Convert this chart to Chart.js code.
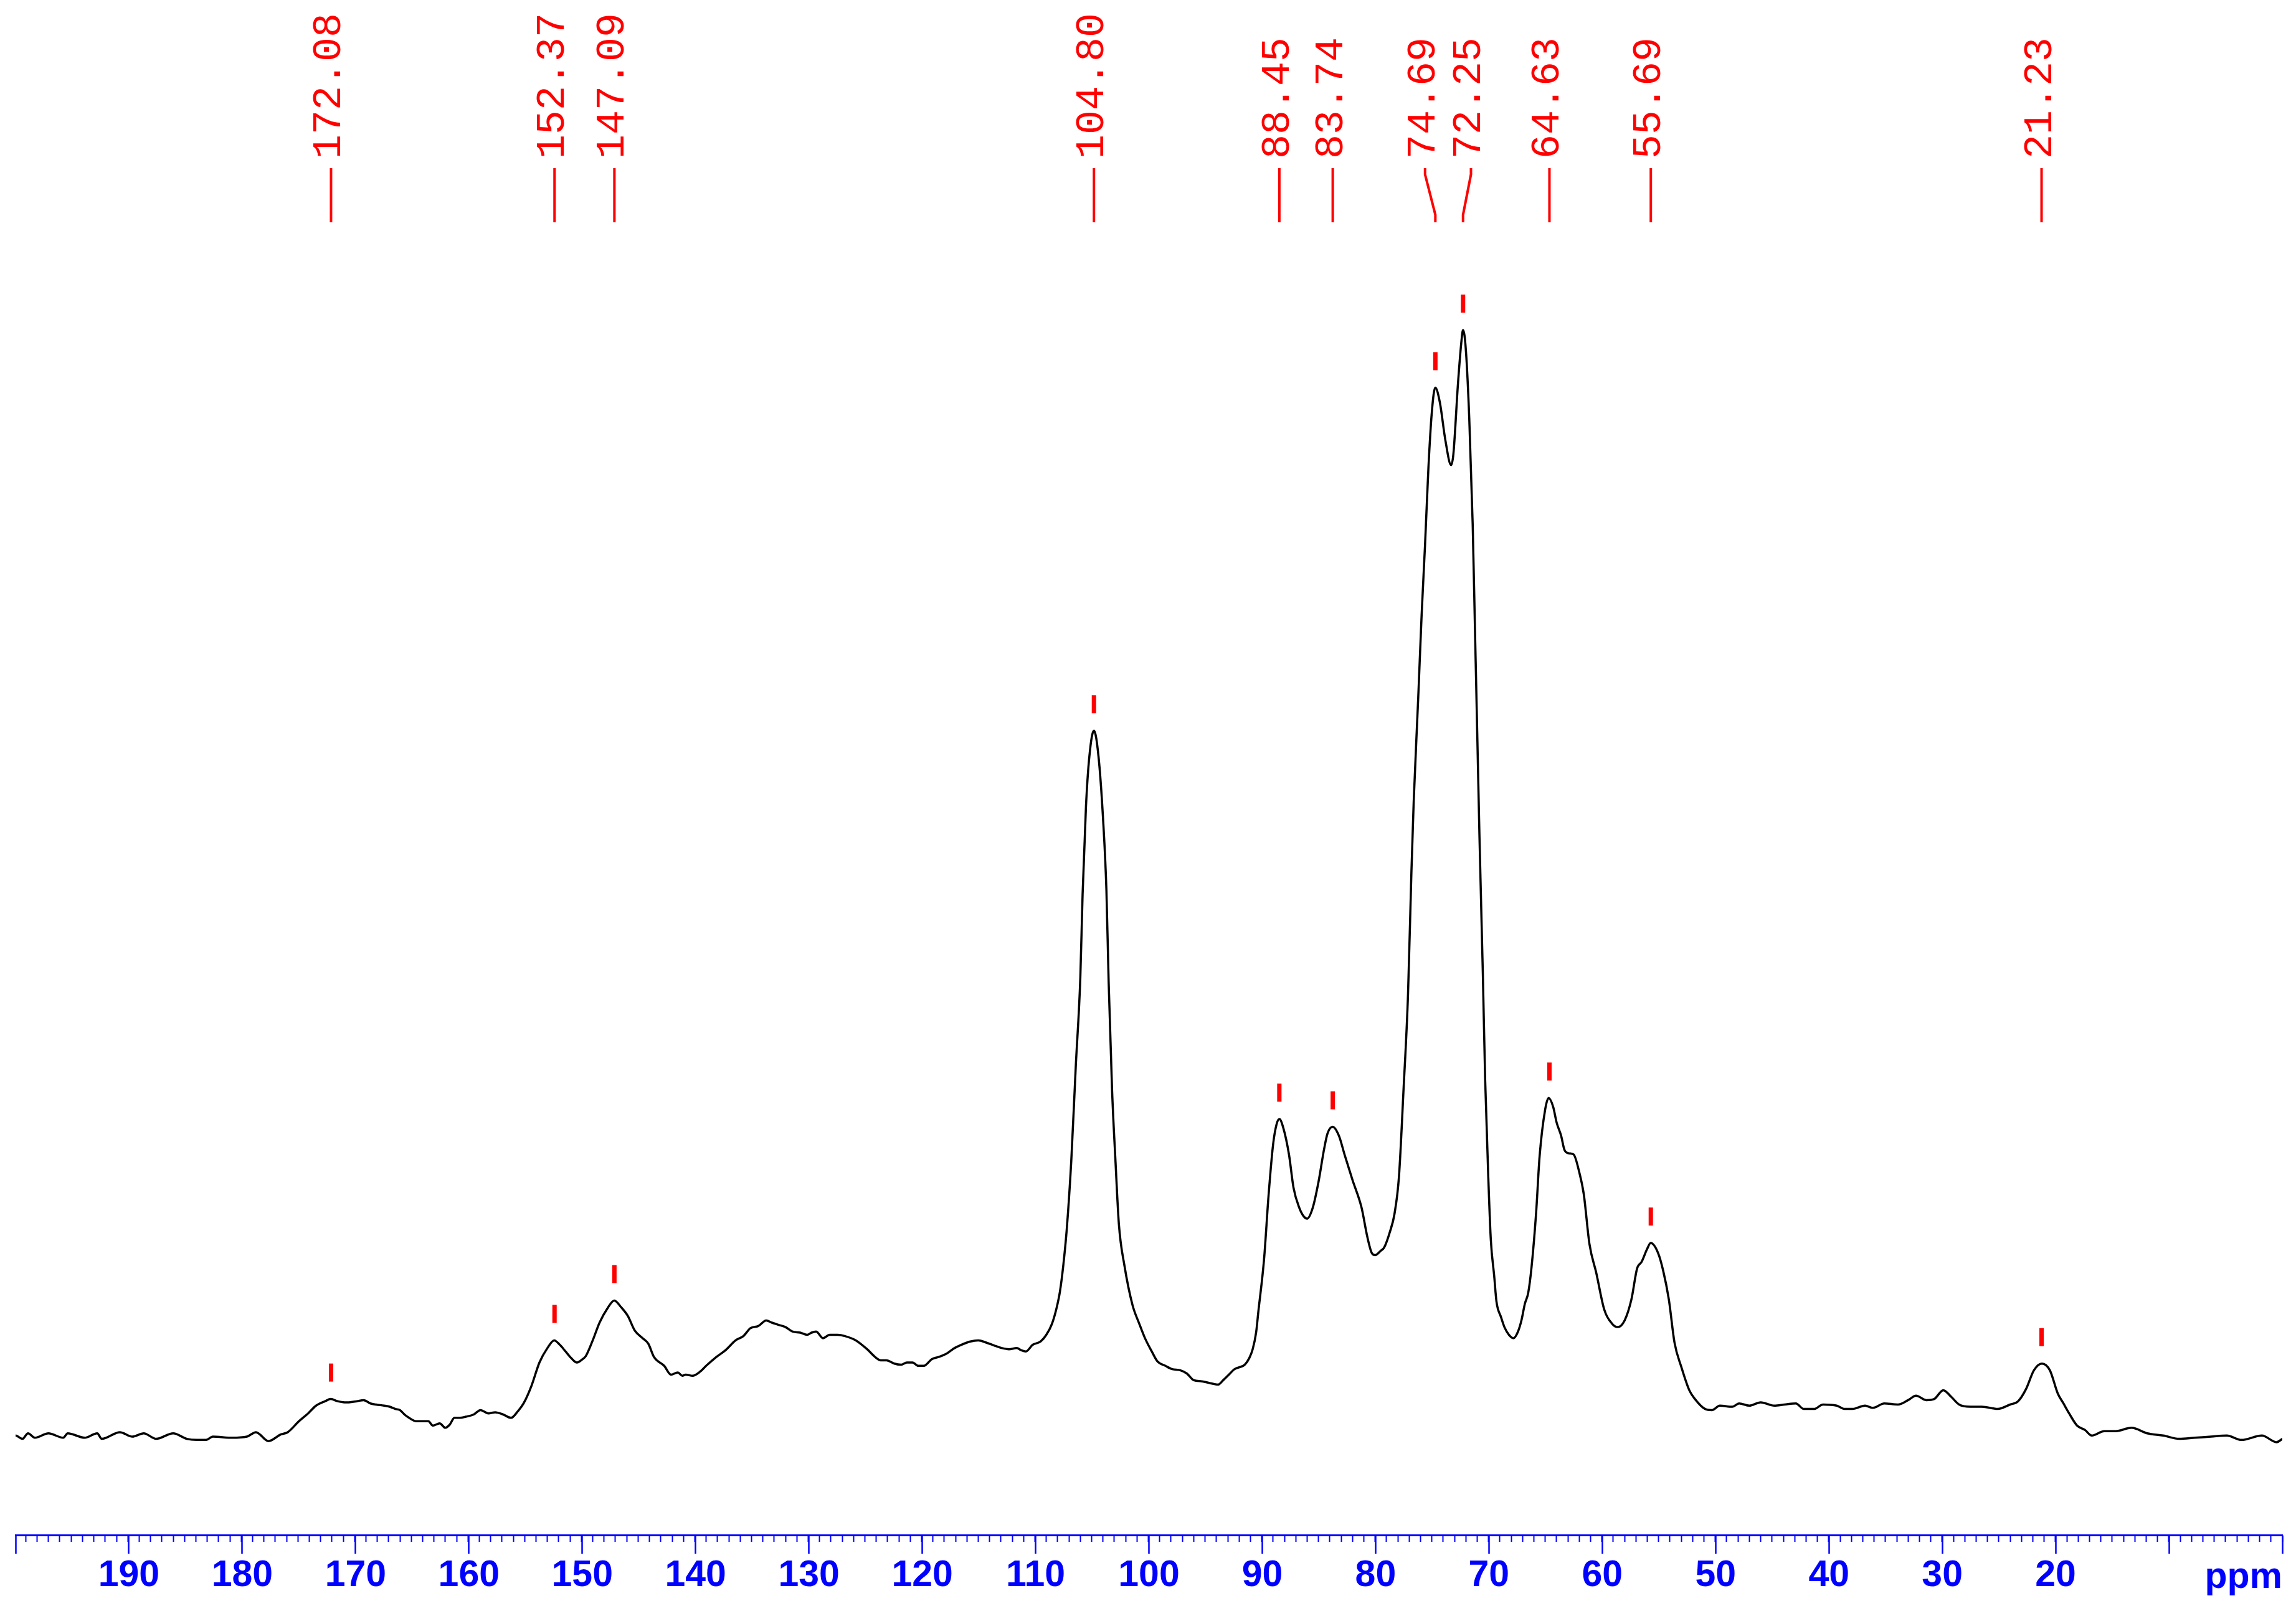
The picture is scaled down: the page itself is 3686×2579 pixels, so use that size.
<!DOCTYPE html>
<html>
<head>
<meta charset="utf-8">
<script src="https://cdn.jsdelivr.net/npm/chart.js@4"></script>
<style>
  html, body { margin: 0; padding: 0; background: #ffffff; }
</style>
</head>
<body>
<canvas id="graphique" width="3686" height="2579"></canvas>
<script>
// chemical shift (ppm) and intensity
const ppm = [
  200.0, 199.9, 199.3, 198.8, 198.2, 197.0, 195.7, 195.3, 193.8, 192.7,
  192.3, 190.7, 189.6, 188.6, 187.5, 186.0, 184.8, 183.9, 183.1, 182.5,
  180.8, 179.5, 178.7, 177.6, 176.5, 175.9, 174.9, 174.1, 173.4, 172.6,
  172.1, 171.5, 170.9, 170.5, 169.8, 169.2, 168.6, 168.1, 167.4, 166.9,
  166.4, 166.0, 165.6, 165.2, 164.6, 163.9, 163.5, 163.1, 162.5, 162.0,
  161.6, 161.2, 160.7, 160.2, 159.5, 158.9, 158.2, 157.6, 156.9, 156.2,
  155.6, 155.1, 154.4, 153.7, 153.0, 152.4, 151.9, 151.4, 150.9, 150.4,
  149.9, 149.6, 149.0, 148.4, 147.7, 147.1, 146.5, 145.9, 145.3, 144.6,
  144.1, 143.6, 142.7, 142.1, 141.5, 141.1, 140.8, 140.2, 139.5, 139.0,
  138.1, 137.3, 136.4, 135.7, 135.1, 134.4, 133.7, 133.2, 132.6, 132.0,
  131.4, 130.7, 130.1, 129.7, 129.3, 128.7, 128.1, 127.4, 126.8, 125.8,
  124.8, 124.1, 123.6, 123.1, 122.4, 121.8, 121.3, 120.8, 120.3, 119.8,
  119.1, 118.5, 117.8, 117.1, 116.5, 115.7, 115.0, 114.3, 113.5, 112.9,
  112.3, 111.6, 111.2, 110.8, 110.2, 109.5, 109.0, 108.5, 108.1, 107.8,
  107.5, 107.2, 106.8, 106.4, 106.0, 105.8, 105.5, 105.2, 104.8, 104.4,
  104.0, 103.7, 103.5, 103.2, 102.9, 102.6, 102.1, 101.4, 100.8, 100.3,
  99.7, 99.2, 98.5, 97.9, 97.2, 96.6, 96.0, 95.3, 94.4, 93.85,
  93.4, 92.9, 92.4, 91.5, 91.1, 90.8, 90.5, 90.3, 89.8, 89.4,
  89.0, 88.7, 88.45, 88.1, 87.6, 87.2, 86.7, 86.3, 86.0, 85.5,
  85.0, 84.5, 84.2, 83.74, 83.2, 82.7, 82.0, 81.2, 80.7, 80.3,
  80.0, 79.5, 79.2, 78.7, 78.3, 77.9, 77.5, 77.1, 76.8, 76.6,
  76.2, 75.9, 75.6, 75.3, 75.0, 74.7, 74.3, 73.8, 73.3, 73.1,
  72.7, 72.4, 72.25, 72.0, 71.7, 71.4, 71.2, 71.0, 70.8, 70.5,
  70.3, 70.0, 69.8, 69.5, 69.3, 68.9, 68.6, 68.2, 67.8, 67.4,
  67.1, 66.8, 66.5, 66.2, 65.8, 65.5, 65.0, 64.7, 64.3, 64.0,
  63.6, 63.3, 62.9, 62.5, 62.0, 61.6, 61.1, 60.5, 59.8, 59.1,
  58.6, 58.0, 57.4, 56.9, 56.5, 56.0, 55.7, 55.05, 54.6, 54.1,
  53.6, 53.0, 52.3, 51.8, 50.9, 50.3, 49.6, 48.5, 47.9, 47.0,
  46.0, 44.8, 43.9, 42.9, 42.2, 41.3, 40.5, 39.3, 38.6, 37.9,
  36.8, 36.1, 35.1, 33.9, 33.0, 32.3, 31.4, 30.7, 29.9, 29.2,
  28.5, 27.5, 26.5, 25.1, 24.0, 23.3, 22.6, 21.9, 21.2, 20.5,
  19.8, 19.3, 18.8, 18.1, 17.4, 16.8, 15.7, 14.7, 13.3, 11.9,
  10.5, 9.1, 7.7, 6.3, 4.9, 3.6, 1.8, 0.5, 0.0
];
const intensity = [
  0.1, 0.1, -0.2, 0.3, -0.1, 0.3, -0.1, 0.3, -0.1, 0.3,
  -0.2, 0.4, 0.0, 0.3, -0.2, 0.3, -0.2, -0.3, -0.3, 0.0,
  -0.1, 0.0, 0.4, -0.4, 0.2, 0.4, 1.4, 2.1, 2.8, 3.2,
  3.4, 3.2, 3.1, 3.1, 3.2, 3.3, 3.0, 2.9, 2.8, 2.7,
  2.5, 2.4, 2.0, 1.7, 1.4, 1.4, 1.4, 1.0, 1.2, 0.8,
  1.1, 1.7, 1.7, 1.8, 2.0, 2.4, 2.1, 2.2, 2.0, 1.7,
  2.3, 3.0, 4.6, 6.7, 8.0, 8.7, 8.3, 7.7, 7.1, 6.7,
  7.0, 7.3, 8.7, 10.3, 11.6, 12.3, 11.7, 10.9, 9.6, 8.9,
  8.4, 7.2, 6.4, 5.6, 5.8, 5.5, 5.6, 5.5, 5.9, 6.4,
  7.2, 7.8, 8.7, 9.1, 9.8, 10.0, 10.5, 10.3, 10.1, 9.9,
  9.5, 9.4, 9.2, 9.4, 9.5, 8.9, 9.2, 9.2, 9.1, 8.7,
  7.9, 7.2, 6.9, 6.9, 6.6, 6.5, 6.7, 6.7, 6.4, 6.4,
  7.0, 7.2, 7.5, 8.0, 8.3, 8.6, 8.7, 8.5, 8.2, 8.0,
  7.9, 8.0, 7.8, 7.7, 8.3, 8.6, 9.2, 10.2, 11.6, 13.1,
  15.5, 18.7, 24.9, 33.5, 41.5, 49.0, 57.0, 61.5, 63.8, 61.5,
  55.9, 49.4, 41.0, 31.3, 24.9, 19.2, 15.4, 11.9, 10.2, 8.9,
  7.7, 6.8, 6.4, 6.1, 6.0, 5.7, 5.1, 5.0, 4.8, 4.7,
  5.1, 5.6, 6.1, 6.5, 7.1, 7.9, 9.4, 11.3, 16.0, 21.8,
  26.4, 28.2, 28.7, 27.9, 25.5, 22.5, 20.7, 19.9, 19.7, 20.7,
  23.0, 26.0, 27.4, 28.0, 27.2, 25.5, 23.2, 20.7, 18.1, 16.6,
  16.4, 16.8, 17.1, 18.5, 20.1, 23.5, 31.3, 40.0, 51.1, 57.4,
  66.8, 74.3, 80.6, 87.6, 92.6, 94.8, 93.5, 90.0, 87.8, 88.8,
  95.1, 98.9, 100.0, 98.2, 92.0, 82.5, 73.1, 63.7, 54.2, 41.7,
  32.3, 22.8, 17.8, 14.5, 12.2, 10.8, 9.9, 9.2, 8.9, 9.5,
  10.5, 12.0, 13.0, 15.4, 20.3, 25.3, 29.6, 30.6, 29.8, 28.4,
  27.2, 25.9, 25.6, 25.5, 23.9, 21.9, 17.4, 14.8, 11.5, 10.2,
  9.9, 10.5, 12.4, 15.2, 15.8, 17.0, 17.5, 16.6, 15.0, 12.4,
  8.5, 6.3, 4.2, 3.4, 2.5, 2.4, 2.8, 2.7, 3.0, 2.8,
  3.1, 2.8, 2.9, 3.0, 2.5, 2.5, 2.9, 2.8, 2.5, 2.5,
  2.8, 2.6, 3.0, 2.9, 3.3, 3.7, 3.3, 3.4, 4.2, 3.6,
  2.9, 2.7, 2.7, 2.5, 2.9, 3.2, 4.3, 6.0, 6.6, 6.0,
  3.9, 3.0, 2.1, 1.0, 0.6, 0.1, 0.5, 0.5, 0.8, 0.3,
  0.1, -0.2, -0.1, 0.0, 0.1, -0.3, 0.1, -0.5, -0.2
];

// picked peaks
const peakLabels = ['172.08', '152.37', '147.09', '104.80', '88.45', '83.74', '74.69', '72.25', '64.63', '55.69', '21.23'];
const peakPositions = [172.08, 152.37, 147.09, 104.80, 88.45, 83.74, 74.69, 72.25, 64.63, 55.69, 21.23];
// where the label sits on the axis (only the two crowded ones are moved apart)
const labelPositions = [172.08, 152.37, 147.09, 104.80, 88.45, 83.74, 75.6, 71.55, 64.63, 55.69, 21.23];

const tickLabels = [190, 180, 170, 160, 150, 140, 130, 120, 110, 100, 90, 80, 70, 60, 50, 40, 30, 20];

const yMin = -8.89;
const yMax = 129.83;

const peakPlugin = {
    id: 'peakPlugin',
    afterDatasetsDraw(chart) {
        const ctx = chart.ctx;
        const xs = chart.scales.x;
        const ys = chart.scales.y;
        ctx.save();
        ctx.strokeStyle = '#ff0000';
        ctx.fillStyle = '#ff0000';
        ctx.lineCap = 'butt';
        ctx.font = '65px "Liberation Mono", "DejaVu Sans Mono", monospace';
        ctx.textAlign = 'left';
        ctx.textBaseline = 'alphabetic';

        for (let i = 0; i < peakPositions.length; i++) {
            const px = xs.getPixelForValue(peakPositions[i]);
            const lx = xs.getPixelForValue(labelPositions[i]);

            // top of the peak from the data
            let top = -Infinity;
            for (let j = 0; j < ppm.length; j++) {
                if (Math.abs(ppm[j] - peakPositions[i]) < 0.4) top = Math.max(top, intensity[j]);
            }
            const py = ys.getPixelForValue(top);

            ctx.lineWidth = 7;
            ctx.beginPath();
            ctx.moveTo(px, py - 57);
            ctx.lineTo(px, py - 28);
            ctx.stroke();

            ctx.lineWidth = 4;
            ctx.beginPath();
            ctx.moveTo(lx, 270);
            if (Math.abs(lx - px) > 1) {
                ctx.lineTo(lx, 280);
                ctx.lineTo(px, 345);
            }
            ctx.lineTo(px, 357);
            ctx.stroke();

            ctx.save();
            ctx.translate(lx + 15, 255);
            ctx.rotate(-Math.PI / 2);
            ctx.fillText(peakLabels[i], 0, 0);
            ctx.restore();
        }

        // unit at the right end of the axis
        ctx.fillStyle = '#0000ff';
        ctx.font = 'bold 59px "Liberation Sans", Arial, sans-serif';
        ctx.textAlign = 'right';
        ctx.fillText('ppm', xs.getPixelForValue(0), 2550);
        ctx.restore();
    }
};

const ctx = document.getElementById('graphique').getContext('2d');
const myChart = new Chart(ctx, {
    type: 'line',
    data: {
        datasets: [{
            label: 'spectre',
            data: ppm.map((p, i) => ({x: p, y: intensity[i]})),
            borderColor: '#000000',
            borderWidth: 3.5,
            pointRadius: 0,
            fill: false,
            cubicInterpolationMode: 'monotone',
            xAxisID: 'x',
            yAxisID: 'y'
        }]
    },
    options: {
        responsive: false,
        animation: false,
        devicePixelRatio: 1,
        layout: { padding: { left: 25, right: 22, top: 0, bottom: 0 } },
        plugins: {
            legend: { display: false },
            tooltip: { enabled: false }
        },
        scales: {
            x: {
                type: 'linear',
                min: 0,
                max: 199.9,
                reverse: true,
                afterFit: (scale) => { scale.height = 114; },
                border: { display: true, color: '#0000ff', width: 3 },
                grid: { drawOnChartArea: false, tickLength: 30, tickColor: '#0000ff', tickWidth: 2.5 },
                ticks: {
                    stepSize: 10,
                    autoSkip: false,
                    includeBounds: false,
                    maxRotation: 0,
                    padding: 0,
                    color: '#0000ff',
                    font: { family: '"Liberation Sans", Arial, sans-serif', size: 59, weight: 'bold' },
                    callback: (v) => tickLabels.includes(Math.round(v)) ? String(Math.round(v)) : ''
                }
            },
            x2: {
                type: 'linear',
                min: 0,
                max: 199.9,
                reverse: true,
                position: { y: yMin },
                border: { display: false },
                grid: { drawOnChartArea: false, tickLength: 11, tickColor: '#0000ff', tickWidth: 2 },
                ticks: { display: false, stepSize: 1, autoSkip: false, includeBounds: false }
            },
            y: {
                type: 'linear',
                display: false,
                min: yMin,
                max: yMax
            }
        }
    },
    plugins: [peakPlugin]
});
</script>
</body>
</html>
